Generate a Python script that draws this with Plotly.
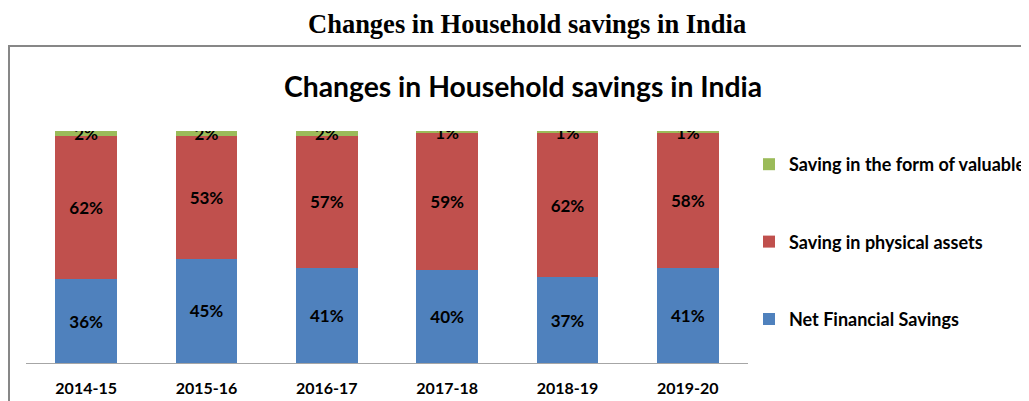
import plotly.graph_objects as go

years = ["2014-15", "2015-16", "2016-17", "2017-18", "2018-19", "2019-20"]
net_financial = [36, 45, 41, 40, 37, 41]
physical_assets = [62, 53, 57, 59, 62, 58]
valuables = [2, 2, 2, 1, 1, 1]

series = [
    ("Net Financial Savings", net_financial, "#4F81BD", 3),
    ("Saving in physical assets", physical_assets, "#C0504D", 2),
    ("Saving in the form of valuables", valuables, "#9BBB59", 1),
]

# page offset (body margin of the html page)
OFF = 8
W, H = 1029 - OFF, 401 - OFF
# plot area in page pixels
PX0, PX1, PY0, PY1 = 26, 748, 131, 363
L, R = PX0 - OFF, W - (PX1 - OFF)
T, B = PY0 - OFF, H - (PY1 - OFF)
PW, PH = PX1 - PX0, PY1 - PY0


def px_x(x):
    return (x - PX0) / PW


def px_y(y):
    return (PY1 - y) / PH


FONT = "Lato"
fig = go.Figure()
for name, vals, color, rank in series:
    fig.add_trace(go.Bar(
        x=years, y=vals, name=name, legendgroup=name, legendrank=rank,
        marker=dict(color=color, line=dict(width=0)),
        text=[f"{v}%" for v in vals], textposition="inside",
        insidetextanchor="middle", textangle=0,
        textfont=dict(family=FONT, size=17, color="black", weight="bold"),
        constraintext="none", hoverinfo="x+y+name",
    ))

fig.update_layout(
    width=W, height=H,
    margin=dict(l=L, r=R, t=T, b=B, autoexpand=False),
    barmode="stack", bargap=0.485,
    plot_bgcolor="white", paper_bgcolor="white",
    showlegend=True,
    legend=dict(
        x=px_x(749), xanchor="left", y=px_y(146), yanchor="top",
        traceorder="grouped", tracegroupgap=51,
        font=dict(family=FONT, size=18, color="black", weight="bold"),
        bgcolor="rgba(0,0,0,0)",
    ),
    xaxis=dict(
        showline=True, linecolor="#A6A6A6", linewidth=1,
        showgrid=False, ticks="", ticklabelstandoff=11,
        tickfont=dict(family=FONT, size=16, color="black", weight="bold"),
        fixedrange=True,
    ),
    yaxis=dict(range=[0, 100], visible=False, fixedrange=True),
    shapes=[dict(
        type="rect", xref="paper", yref="paper",
        x0=px_x(9), x1=px_x(1060), y0=px_y(430), y1=px_y(46),
        line=dict(color="#878787", width=2), fillcolor="rgba(0,0,0,0)",
        layer="below",
    )],
    annotations=[
        dict(text="Changes in Household savings in India", xref="paper", yref="paper",
             x=px_x(523), y=px_y(86), xanchor="center", yanchor="middle",
             showarrow=False,
             font=dict(family=FONT, size=28.3, color="black", weight="bold")),
        dict(text="<b>Changes in Household savings in India</b>", xref="paper", yref="paper",
             x=px_x(527), y=px_y(24), xanchor="center", yanchor="middle",
             showarrow=False,
             font=dict(family="Liberation Serif", size=26.5, color="black")),
    ],
)

fig.write_html("out.html")
